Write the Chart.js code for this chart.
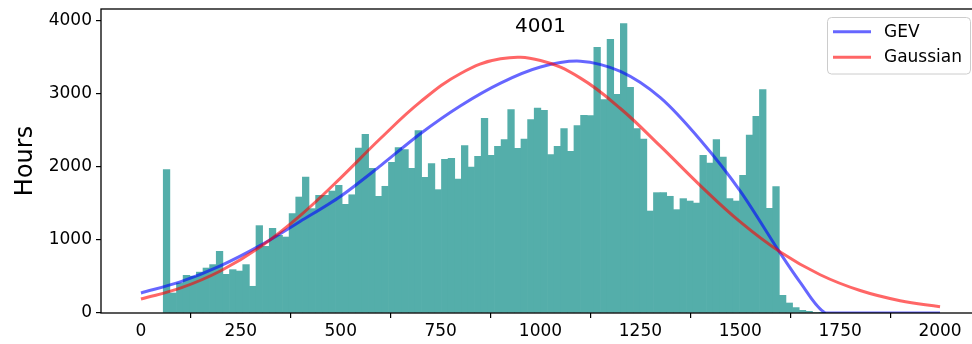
<!DOCTYPE html>
<html><head><meta charset="utf-8">
<script src="https://cdn.jsdelivr.net/npm/chart.js@4"></script>
<style>
html,body{margin:0;padding:0;background:#fff;overflow:hidden}
#wrap{width:972px;height:344px;overflow:hidden;position:relative;background:#fff}
canvas{display:block}
</style></head><body>
<div id="wrap"><canvas id="c" width="981" height="344"></canvas></div>
<script>
// ---- data ----
const binStart = 55.8;
const binWidth = 16.58;
const counts = [1964,274,410,516,505,560,616,663,845,530,594,575,663,366,
  1197,913,1160,1064,1041,1361,1589,1863,1430,1612,1612,1671,1749,1489,
  1620,2260,2448,1982,1599,1736,2064,2266,2238,1982,2499,1859,2046,
  1690,2105,2119,1836,2293,2000,2147,2667,2160,2284,2375,2786,2256,2384,
  2649,2808,2777,2170,2284,2526,2215,2567,2708,2704,3640,2923,3749,
  2996,3964,3092,2526,2384,1397,1649,1649,1599,1416,1567,1534,1507,
  2160,2055,2375,2137,1567,1534,1886,2438,2695,3060,1434,1732,
  242,137,74,37,23,8,3];
const gevX = [0,100,200,300,400,500,600,700,800,900,1000,1100,1200,1300,1400,1500,1600,1650,1713,1800,1900,2000];
const gevY = [274,430,650,930,1260,1600,2020,2460,2840,3150,3370,3450,3310,2950,2370,1670,820,420,0,0,0,0];
const gaussX = [0,100,200,300,400,500,600,700,800,900,1000,1100,1200,1300,1400,1500,1600,1700,1800,1900,2000];
const gaussY = [192,344,579,911,1342,1852,2394,2896,3282,3482,3459,3218,2802,2286,1746,1248,836,524,308,169,87];
const xTicks = [0,250,500,750,1000,1250,1500,1750,2000];
const yTicks = [0,1000,2000,3000,4000];
const seriesNames = ['GEV','Gaussian'];
const titleText = '4001';
const yLabel = 'Hours';

const barColor = '#54aeaa';
const gevColor = 'rgba(0,0,255,0.6)';
const gaussColor = 'rgba(255,0,0,0.6)';
const FONT = 'DejaVu Sans';

const barData = counts.map((c,i)=>({x: binStart + binWidth*(i+0.5), y: c}));

const overlay = {
  id:'overlay',
  afterDatasetsDraw(chart){
    const {ctx, chartArea:a} = chart;
    ctx.save();
    ctx.strokeStyle = '#000'; ctx.lineWidth = 1.3;
    ctx.strokeRect(a.left, a.top, a.right-a.left, a.bottom-a.top);
    ctx.fillStyle = '#000';
    ctx.font = '20px "'+FONT+'"';
    ctx.textAlign = 'center'; ctx.textBaseline = 'middle';
    ctx.fillText(titleText, (a.left+a.right)/2, 27);
    const lx = 827.5, ly = 17.5, lw = 143, lh = 56.5;
    ctx.beginPath();
    ctx.roundRect(lx, ly, lw, lh, 4);
    ctx.fillStyle = 'rgba(255,255,255,0.8)'; ctx.fill();
    ctx.strokeStyle = '#cccccc'; ctx.lineWidth = 1; ctx.stroke();
    const rows = [ly+14.2, ly+39.8];
    const cols = [gevColor, gaussColor];
    ctx.font = '17px "'+FONT+'"'; ctx.textAlign = 'left';
    for (let i=0;i<2;i++){
      ctx.beginPath(); ctx.strokeStyle = cols[i]; ctx.lineWidth = 3;
      ctx.moveTo(833, rows[i]); ctx.lineTo(871, rows[i]); ctx.stroke();
      ctx.fillStyle = '#000';
      ctx.fillText(seriesNames[i], 884, rows[i]+0.5);
    }
    ctx.restore();
  }
};

const plain = v => String(v);

new Chart(document.getElementById('c'), {
  type:'bar',
  data:{datasets:[
    {type:'line', label:seriesNames[1], data: gaussX.map((x,i)=>({x, y:gaussY[i]})),
     borderColor:gaussColor, borderWidth:3, pointRadius:0, tension:0.4, fill:false, order:1},
    {type:'line', label:seriesNames[0], data: gevX.map((x,i)=>({x, y:gevY[i]})),
     borderColor:gevColor, borderWidth:3, pointRadius:0, tension:0.3, fill:false, order:2},
    {type:'bar', label:'hist', data: barData, backgroundColor: barColor, borderWidth:0,
     barPercentage:1, categoryPercentage:1, order:3}
  ]},
  options:{
    responsive:false, animation:false, devicePixelRatio:1,
    layout:{padding:{left:0,top:9,right:1,bottom:0}},
    plugins:{legend:{display:false}, tooltip:{enabled:false}},
    scales:{
      x:{type:'linear', min:-100, max:2100, offset:false,
        grid:{drawOnChartArea:false, color:'#000', tickLength:5, lineWidth:1.2},
        border:{display:false},
        ticks:{font:{family:FONT,size:17}, color:'#000', padding:3, maxRotation:0, autoSkip:false, callback:plain},
        afterBuildTicks:s=>{s.ticks = xTicks.map(v=>({value:v}));},
        afterFit:s=>{s.height = 31; s.paddingLeft = 0; s.paddingRight = 0;}
      },
      y:{type:'linear', min:0, max:4165,
        grid:{drawOnChartArea:false, color:'#000', tickLength:5, lineWidth:1.2},
        border:{display:false},
        ticks:{font:{family:FONT,size:17}, color:'#000', padding:4, callback:plain},
        afterBuildTicks:s=>{s.ticks = yTicks.map(v=>({value:v}));},
        title:{display:true, text:yLabel, color:'#000', font:{family:FONT,size:24}, padding:{top:11,bottom:0}},
        afterFit:s=>{s.width = 101; s.paddingTop = 0; s.paddingBottom = 0;}
      }
    }
  },
  plugins:[overlay]
});
</script>
</body></html>
